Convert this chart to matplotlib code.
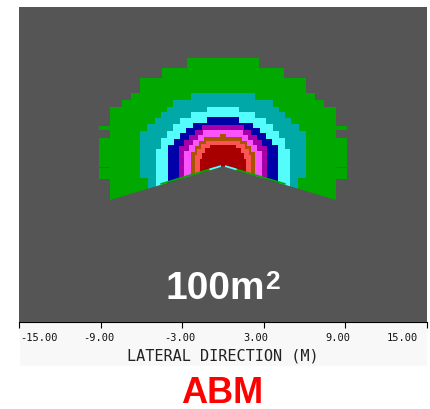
import numpy as np
import matplotlib
matplotlib.use('Agg')
import matplotlib.pyplot as plt
import matplotlib.transforms as mtransforms
from matplotlib.patches import Rectangle

# Contour bands, outermost first. For each band: top of every row step (m) and half width of that row (m)
band_colors = ['#00a800', '#00a8a8', '#54fcfc', '#0000a8', '#a800a8',
               '#fc54fc', '#a85400', '#fc5454', '#a80000']

green_y = [19.35, 18.61, 17.88, 16.80, 16.29, 15.75, 14.40, 14.09, 13.50, 11.37, 11.26, 10.49]
green_hw = [2.64, 4.51, 6.11, 6.73, 7.46, 8.28, 9.11, 8.28, 9.11, 8.28, 9.11, 8.28]
teal_y = [16.80, 16.29, 15.75, 15.38, 14.97, 14.53, 14.04, 10.56]
teal_hw = [2.37, 3.65, 4.11, 4.53, 4.97, 5.58, 6.11, 5.50]
cyan_y = [15.75, 15.38, 14.97, 14.53, 14.04, 13.50, 12.69]
cyan_hw = [1.16, 2.37, 3.15, 3.65, 4.09, 4.53, 4.90]
blue_y = [15.02, 14.60, 14.23, 13.87, 13.43, 12.99]
blue_hw = [1.14, 2.20, 2.71, 3.15, 3.60, 4.08]
purple_y = [14.42, 14.09, 13.72, 13.35, 12.91]
purple_hw = [1.54, 2.05, 2.49, 2.86, 3.24]
pink_y = [14.05, 13.72, 13.35, 12.99, 12.55]
pink_hw = [1.47, 1.83, 2.20, 2.49, 2.88]
brown_y = [13.79, 13.55, 13.28, 12.91, 12.47]
brown_hw = [0.22, 1.39, 1.76, 2.05, 2.32]
salmon_y = [13.30, 13.06, 12.69, 12.25]
salmon_hw = [1.28, 1.61, 1.88, 2.08]
red_y = [13.01, 12.76, 12.40, 11.96]
red_hw = [0.95, 1.32, 1.58, 1.72]

# Chevron shaped lower boundary of the field (m)
cut_x = [-15.0, 0.0, 15.0]
cut_y = [6.95, 11.42, 6.95]

# Thin coloured rims along the chevron (lateral extent, m)
rim_green_x = [0.6, 4.6]
rim_cyan_x = [0.15, 1.0]

tick_values = [-15, -9, -3, 3, 9, 15]
tick_labels = ['-15.00', '-9.00', '-3.00', '3.00', '9.00', '15.00']
# horizontal nudge of each tick label in pixels (labels of the plotter sit a bit off the ticks)
tick_shift = [1, -2, -2, -8, -8, -9]

BG = '#555555'


# Build a stepped, left/right symmetric polygon from row tops and half widths
def band_polygon(ys, hws, y_bottom=5.0):
        right = []
        for i in range(len(ys)):
                y_next = ys[i + 1] if i + 1 < len(ys) else y_bottom
                right.append((hws[i], ys[i]))
                right.append((hws[i], y_next))
        left = [(-x, y) for x, y in reversed(right)]
        pts = np.array(right + left)
        return pts[:, 0], pts[:, 1]


def main():
        fig = plt.figure(figsize=(4.3, 4.1), dpi=100)
        fig.patch.set_facecolor('white')

        # light strip behind the axis labels
        strip = Rectangle((20 / 430, 43 / 410), 407 / 430, 44 / 410, transform=fig.transFigure,
                          facecolor='#f8f8f8', edgecolor='none', zorder=-1)
        fig.add_artist(strip)

        ax = fig.add_axes([19 / 430, 87 / 410, 408 / 430, 315 / 410])
        ax.set_facecolor(BG)
        ax.set_xlim(-15, 15)
        ax.set_ylim(0, 23.1)

        bands = [(green_y, green_hw), (teal_y, teal_hw), (cyan_y, cyan_hw),
                 (blue_y, blue_hw), (purple_y, purple_hw), (pink_y, pink_hw),
                 (brown_y, brown_hw), (salmon_y, salmon_hw), (red_y, red_hw)]
        for (ys, hws), col in zip(bands, band_colors):
                px, py = band_polygon(ys, hws)
                ax.fill(px, py, color=col, linewidth=0, antialiased=False, zorder=2)

        # cut the field along the chevron
        ax.fill(cut_x + [15.0, -15.0], cut_y + [-1.0, -1.0], color=BG, linewidth=0, zorder=3)

        # rims just above the cut
        for xs, col in [(rim_green_x, '#00a800'), (rim_cyan_x, '#54fcfc')]:
                for sgn in (-1, 1):
                        x = np.array(xs) * sgn
                        y = np.interp(x, cut_x, cut_y) + 0.06
                        ax.plot(x, y, color=col, linewidth=1.3, solid_capstyle='butt', zorder=4)

        # axis cosmetics
        for side in ['left', 'top', 'right']:
                ax.spines[side].set_visible(False)
        ax.spines['bottom'].set_color('black')
        ax.spines['bottom'].set_linewidth(0.8)
        ax.set_yticks([])
        ax.set_xticks(tick_values)
        ax.set_xticklabels(tick_labels, fontfamily='DejaVu Sans Mono', fontsize=7.5, color='#111111')
        ax.tick_params(axis='x', direction='out', length=4, width=0.8, pad=3.5, color='black')
        labels = ax.get_xticklabels()
        labels[0].set_ha('left')
        labels[-1].set_ha('right')
        for lab, dx in zip(labels, tick_shift):
                lab.set_transform(lab.get_transform() + mtransforms.ScaledTranslation(dx / 100, 0, fig.dpi_scale_trans))

        ax.set_xlabel('LATERAL DIRECTION (M)', fontfamily='DejaVu Sans Mono', fontsize=11,
                      color='#222222', labelpad=4)

        # area annotation inside the plot, with a large superscript
        area = ax.text(0.482, 0.075, '100m', transform=ax.transAxes, ha='center', va='baseline',
                       color='white', fontsize=28, fontweight='bold', family=['Liberation Sans'])
        ax.annotate('2', xy=(1.0, 1.0), xycoords=area, xytext=(0, 1), textcoords='offset points',
                    ha='left', va='top', color='white', fontsize=19, fontweight='bold',
                    family=['Liberation Sans'])

        # model name under the chart
        fig.text(222 / 430, 7 / 410, 'ABM', ha='center', va='baseline', color='#ff0000',
                 fontsize=26, fontweight='bold', family=['Liberation Sans'])

        fig.savefig('out.png', dpi=100)


if __name__ == '__main__':
        main()
